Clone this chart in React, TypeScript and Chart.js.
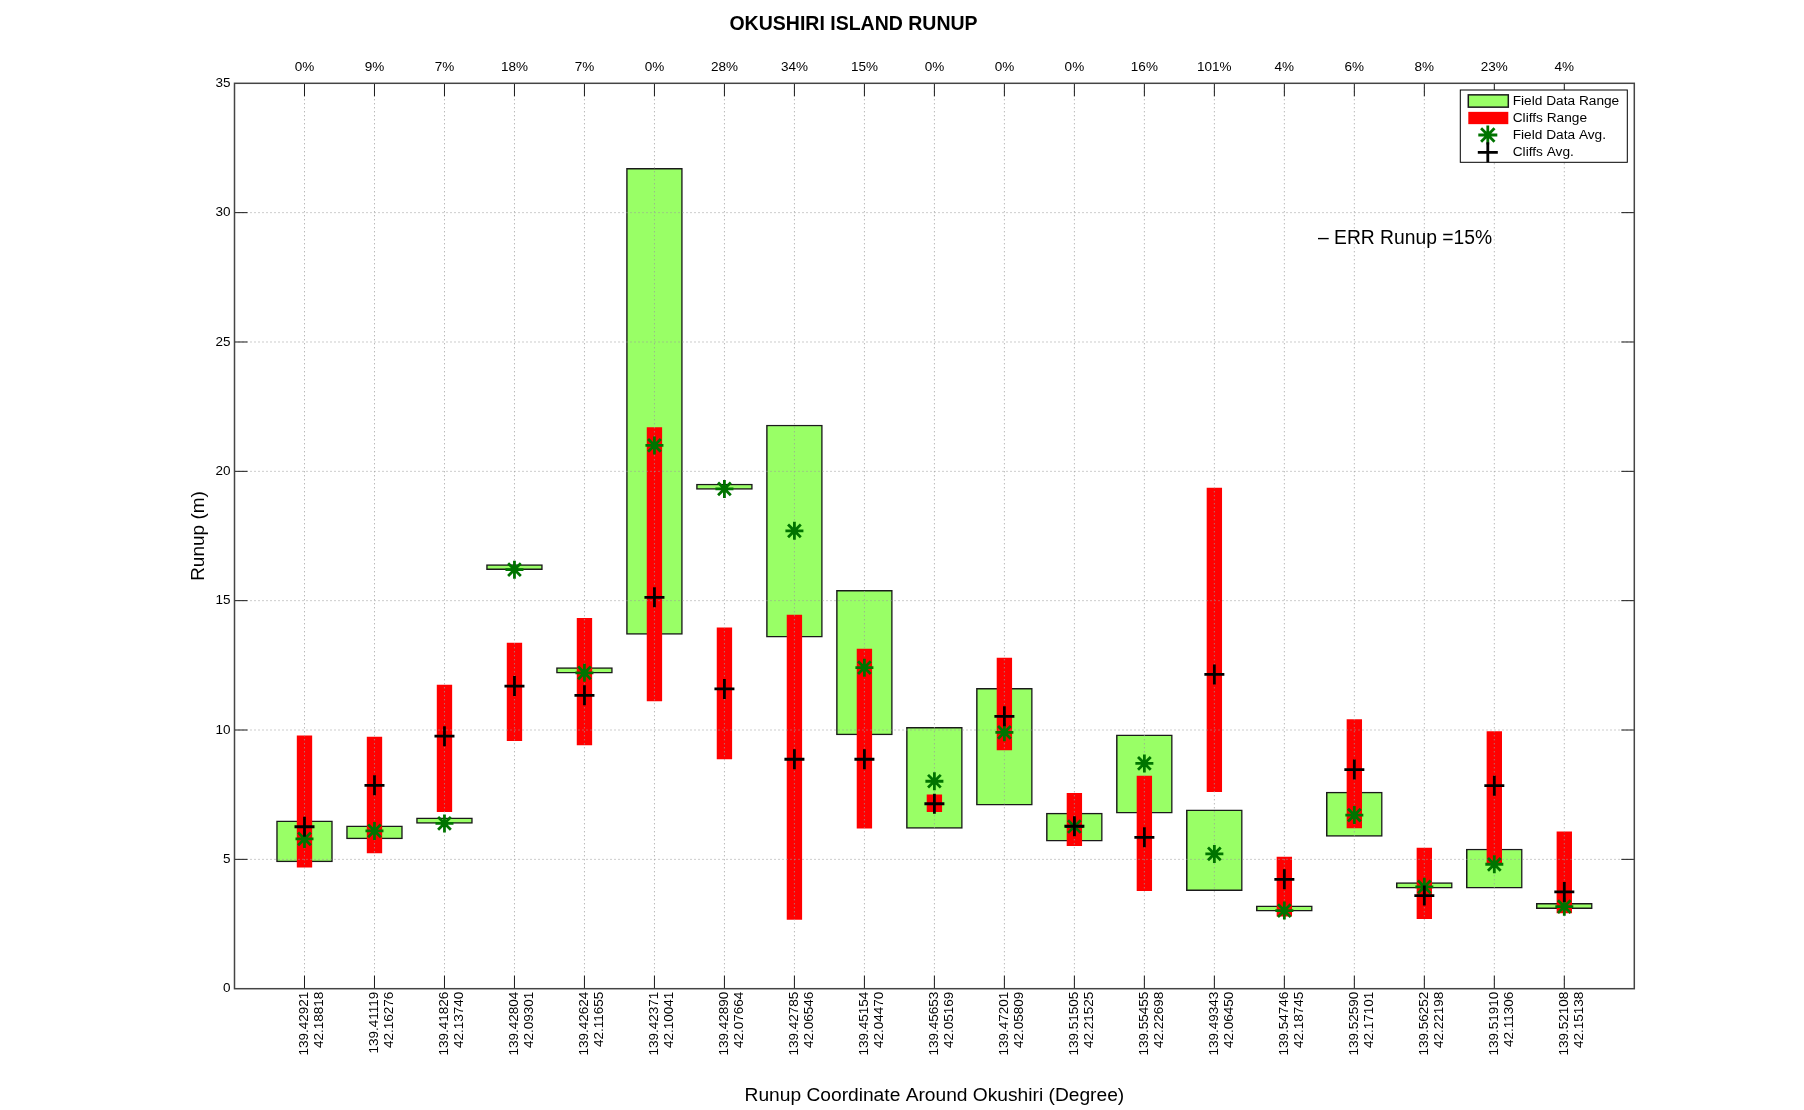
import React, { useEffect, useRef } from 'react';
import { Chart, registerables } from 'chart.js';

Chart.register(...registerables);

const FONT = '"Liberation Sans", Arial, Helvetica, sans-serif';

// ---- data ----
const lonLabels = ['139.42921', '139.41119', '139.41826', '139.42804', '139.42624', '139.42371', '139.42890', '139.42785', '139.45154', '139.45653', '139.47201', '139.51505', '139.55455', '139.49343', '139.54746', '139.52590', '139.56252', '139.51910', '139.52108'];
const latLabels = ['42.18818', '42.16276', '42.13740', '42.09301', '42.11655', '42.10041', '42.07664', '42.06546', '42.04470', '42.05169', '42.05809', '42.21525', '42.22698', '42.06450', '42.18745', '42.17101', '42.22198', '42.11306', '42.15138'];
const errLabels = ['0%', '9%', '7%', '18%', '7%', '0%', '28%', '34%', '15%', '0%', '0%', '0%', '16%', '101%', '4%', '6%', '8%', '23%', '4%'];

const fieldMin = [4.90, 5.79, 6.39, 16.20, 12.20, 13.70, 19.30, 13.59, 9.81, 6.20, 7.09, 5.70, 6.79, 3.79, 3.00, 5.89, 3.89, 3.89, 3.09];
const fieldMax = [6.49, 6.30, 6.61, 16.40, 12.41, 31.71, 19.51, 21.79, 15.40, 10.10, 11.61, 6.79, 9.81, 6.91, 3.20, 7.60, 4.10, 5.40, 3.30];
const cliffMin = [4.70, 5.25, 6.84, 9.59, 9.42, 11.12, 8.88, 2.68, 6.21, 6.84, 9.23, 5.53, 3.79, 7.62, 2.80, 6.22, 2.71, 4.85, 2.93];
const cliffMax = [9.78, 9.73, 11.74, 13.36, 14.32, 21.69, 13.95, 14.44, 13.13, 7.49, 12.78, 7.55, 8.22, 19.35, 5.09, 10.40, 5.44, 9.94, 6.06];
const fieldAvg = [5.79, 6.10, 6.39, 16.20, 12.21, 21.00, 19.32, 17.70, 12.41, 8.02, 9.91, 6.27, 8.71, 5.21, 3.02, 6.71, 3.94, 4.81, 3.17];
const cliffAvg = [6.26, 7.86, 9.76, 11.70, 11.34, 15.13, 11.59, 8.87, 8.87, 7.15, 10.53, 6.28, 5.85, 12.15, 4.23, 8.47, 3.60, 7.85, 3.74];

const titleText = 'OKUSHIRI ISLAND RUNUP';
const yTitle = 'Runup (m)';
const xTitle = 'Runup Coordinate Around Okushiri (Degree)';
const noteText = '\u2013 ERR Runup =15%';
const legendLabels = ['Field Data Range', 'Cliffs Range', 'Field Data Avg.', 'Cliffs Avg.'];

const GREEN_FILL = '#99ff66';
const RED = '#ff0000';
const STAR = '#007400';
const EDGE = '#1a1a1a';

function drawStar(ctx: CanvasRenderingContext2D, x: number, y: number, r: number) {
  ctx.beginPath();
  for (let k = 0; k < 4; k++) {
    const a = (k * Math.PI) / 4;
    const dx = Math.sin(a) * r;
    const dy = Math.cos(a) * r;
    ctx.moveTo(x - dx, y - dy);
    ctx.lineTo(x + dx, y + dy);
  }
  ctx.stroke();
}

function drawPlus(ctx: CanvasRenderingContext2D, x: number, y: number, r: number) {
  ctx.beginPath();
  ctx.moveTo(x - r, y);
  ctx.lineTo(x + r, y);
  ctx.moveTo(x, y - r);
  ctx.lineTo(x, y + r);
  ctx.stroke();
}

const overlay = {
  id: 'overlay',
  // dotted grid drawn above the range bars but below the markers
  afterDatasetDraw(chart: any, args: any) {
    if (args.index !== 2) return;
    const { ctx, chartArea: ca, scales } = chart;
    const xs = scales.x;
    const ys = scales.y;
    ctx.save();
    ctx.lineWidth = 1;
    ctx.strokeStyle = '#9a9a9a';
    ctx.setLineDash([1, 3]);
    ctx.beginPath();
    xs.ticks.forEach((t: any) => {
      if (t.value <= xs.min || t.value >= xs.max) return;
      const px = xs.getPixelForValue(t.value);
      ctx.moveTo(px, ca.top);
      ctx.lineTo(px, ca.bottom);
    });
    ys.ticks.forEach((t: any) => {
      if (t.value <= ys.min || t.value >= ys.max) return;
      const py = ys.getPixelForValue(t.value);
      ctx.moveTo(ca.left, py);
      ctx.lineTo(ca.right, py);
    });
    ctx.stroke();
    ctx.restore();
  },
  afterDatasetsDraw(chart: any) {
    const { ctx, chartArea: ca, scales } = chart;
    const xs = scales.x;
    const ys = scales.y;
    ctx.save();
    // inward tick marks on all four sides
    const TL = 13;
    ctx.strokeStyle = '#1a1a1a';
    ctx.lineWidth = 1;
    ctx.beginPath();
    xs.ticks.forEach((t: any) => {
      if (t.value <= xs.min || t.value >= xs.max) return;
      const px = xs.getPixelForValue(t.value);
      ctx.moveTo(px, ca.bottom);
      ctx.lineTo(px, ca.bottom - TL);
      ctx.moveTo(px, ca.top);
      ctx.lineTo(px, ca.top + TL);
    });
    ys.ticks.forEach((t: any) => {
      if (t.value <= ys.min || t.value >= ys.max) return;
      const py = ys.getPixelForValue(t.value);
      ctx.moveTo(ca.left, py);
      ctx.lineTo(ca.left + TL, py);
      ctx.moveTo(ca.right, py);
      ctx.lineTo(ca.right - TL, py);
    });
    ctx.stroke();
    // axes box
    ctx.strokeStyle = '#444';
    ctx.lineWidth = 1.5;
    ctx.strokeRect(ca.left, ca.top, ca.right - ca.left, ca.bottom - ca.top);
    ctx.restore();
  },
  afterDraw(chart: any) {
    const { ctx, chartArea: ca, scales } = chart;
    const xs = scales.x;
    const ys = scales.y;
    ctx.save();
    // title
    ctx.fillStyle = '#000';
    ctx.font = `bold 19.5px ${FONT}`;
    ctx.textAlign = 'center';
    ctx.textBaseline = 'middle';
    ctx.fillText(titleText, 853.5, 25);

    // annotation
    ctx.font = `19.3px ${FONT}`;
    ctx.textAlign = 'left';
    ctx.fillText(noteText, xs.getPixelForValue(15.48), ys.getPixelForValue(29));

    // legend
    const w = 167;
    const h = 72.3;
    const bx = ca.right - 7 - w;
    const by = ca.top + 6.7;
    ctx.fillStyle = '#fff';
    ctx.fillRect(bx, by, w, h);
    ctx.strokeStyle = '#000';
    ctx.lineWidth = 1;
    ctx.strokeRect(bx, by, w, h);
    const rows = [11, 28, 45, 62.3];
    const sx = bx + 8;
    const sw = 40;
    const sh = 12.3;
    const mx = bx + 27.5;
    ctx.fillStyle = GREEN_FILL;
    ctx.fillRect(sx, by + rows[0] - sh / 2, sw, sh);
    ctx.strokeStyle = EDGE;
    ctx.lineWidth = 1.5;
    ctx.strokeRect(sx, by + rows[0] - sh / 2, sw, sh);
    ctx.fillStyle = RED;
    ctx.fillRect(sx, by + rows[1] - sh / 2, sw, sh);
    ctx.strokeStyle = STAR;
    ctx.lineWidth = 2.8;
    drawStar(ctx, mx, by + rows[2], 9.5);
    ctx.strokeStyle = '#000';
    drawPlus(ctx, mx, by + rows[3], 10);
    ctx.fillStyle = '#000';
    ctx.font = `13.7px ${FONT}`;
    ctx.textAlign = 'left';
    ctx.textBaseline = 'middle';
    legendLabels.forEach((l, i) => ctx.fillText(l, bx + 52.4, by + rows[i]));
    ctx.restore();
  },
};

export default function App() {
  const ref = useRef<HTMLCanvasElement>(null);

  useEffect(() => {
    const canvas = ref.current;
    if (!canvas) return;
    const xs = lonLabels.map((_, i) => i + 1);
    const tickFont = { family: FONT, size: 13.5, lineHeight: 1.12 };

    const chart = new Chart(canvas, {
      type: 'bar',
      data: {
        datasets: [
          {
            type: 'scatter',
            label: 'Cliffs Avg.',
            data: xs.map((x, i) => ({ x, y: cliffAvg[i] })),
            pointStyle: 'cross',
            pointRadius: 10,
            pointBorderWidth: 2.8,
            pointBorderColor: '#000',
            pointBackgroundColor: '#000',
            borderColor: '#000',
            order: 1,
          } as any,
          {
            type: 'scatter',
            label: 'Field Data Avg.',
            data: xs.map((x, i) => ({ x, y: fieldAvg[i] })),
            pointStyle: 'star',
            pointRadius: 9,
            pointBorderWidth: 2.8,
            pointBorderColor: STAR,
            pointBackgroundColor: STAR,
            borderColor: STAR,
            order: 2,
          } as any,
          {
            type: 'bar',
            label: 'Cliffs Range',
            data: xs.map((x, i) => ({ x, y: [cliffMin[i], cliffMax[i]] })),
            backgroundColor: RED,
            borderWidth: 0,
            barThickness: 14.7,
            order: 3,
          } as any,
          {
            type: 'bar',
            label: 'Field Data Range',
            data: xs.map((x, i) => ({ x, y: [fieldMin[i], fieldMax[i]] })),
            backgroundColor: GREEN_FILL,
            borderColor: EDGE,
            borderWidth: 1.5,
            borderSkipped: false,
            barThickness: 56,
            order: 4,
          } as any,
        ],
      },
      options: {
        animation: false,
        responsive: false,
        events: [],
        layout: { padding: { left: 0, top: 0, right: 169.7, bottom: 0 } },
        plugins: {
          legend: { display: false },
          tooltip: { enabled: false },
          title: { display: false },
        },
        scales: {
          x: {
            type: 'linear',
            position: 'bottom',
            min: 0,
            max: 20,
            offset: false,
            stacked: true,
            grid: { display: false, drawTicks: false, offset: false },
            border: { display: false },
            ticks: {
              stepSize: 1,
              autoSkip: false,
              maxTicksLimit: 40,
              minRotation: 90,
              maxRotation: 90,
              padding: 3,
              color: '#000',
              font: tickFont,
              callback: (v: any) => {
                const i = Math.round(Number(v));
                if (i < 1 || i > lonLabels.length) return '';
                return [lonLabels[i - 1], latLabels[i - 1]];
              },
            },
            title: {
              display: true,
              text: xTitle,
              color: '#000',
              font: { family: FONT, size: 19.2 },
              padding: { top: 0, bottom: 2.6 },
            },
            afterFit: (s: any) => {
              s.height = 121.3;
            },
          },
          x2: {
            type: 'linear',
            position: 'top',
            min: 0,
            max: 20,
            offset: false,
            grid: { display: false, drawTicks: false },
            border: { display: false },
            ticks: {
              stepSize: 1,
              autoSkip: false,
              maxTicksLimit: 40,
              minRotation: 0,
              maxRotation: 0,
              padding: 8,
              color: '#000',
              font: { family: FONT, size: 13.5 },
              callback: (v: any) => {
                const i = Math.round(Number(v));
                if (i < 1 || i > errLabels.length) return '';
                return errLabels[i - 1];
              },
            },
            afterFit: (s: any) => {
              s.height = 83.3;
            },
          },
          y: {
            type: 'linear',
            position: 'left',
            min: 0,
            max: 35,
            stacked: false,
            grid: { display: false, drawTicks: false },
            border: { display: false },
            ticks: {
              stepSize: 5,
              padding: 4,
              color: '#000',
              font: { family: FONT, size: 13.5 },
            },
            title: {
              display: true,
              text: yTitle,
              color: '#000',
              font: { family: FONT, size: 19 },
              padding: { top: 187.6, bottom: 0 },
            },
            afterFit: (s: any) => {
              s.width = 234.5;
            },
          },
        },
      } as any,
      plugins: [overlay],
    });

    return () => chart.destroy();
  }, []);

  return (
    <div style={{ position: 'fixed', left: 0, top: 0, width: 1804, height: 1110, background: '#fff' }}>
      <canvas ref={ref} width={1804} height={1110} style={{ display: 'block', width: 1804, height: 1110 }} />
    </div>
  );
}
